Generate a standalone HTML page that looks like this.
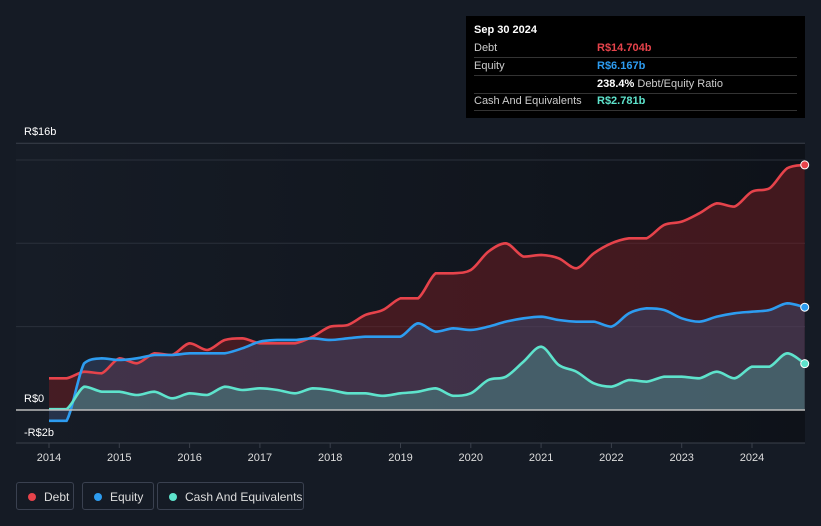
<!DOCTYPE html>
<html><head><meta charset="utf-8"><style>
body{margin:0;background:#151b25;font-family:"Liberation Sans",sans-serif;}
#wrap{position:relative;width:821px;height:526px;overflow:hidden;background:#151b25}
svg{position:absolute;left:0;top:0}
.tt{position:absolute;left:466px;top:16px;width:339px;height:102px;background:#000;color:#fff;font-size:11px}
.row{position:absolute;left:8px;right:8px;height:17px;border-bottom:1px solid #333;line-height:17px}
.row span.l{position:absolute;left:0;color:#ccc}
.row span.v{position:absolute;left:123px;font-weight:bold}
.leg{position:absolute;top:482px;height:28px;border:1px solid #3a4150;border-radius:3px;color:#ddd;font-size:12px;line-height:28px;box-sizing:border-box;padding-left:27px}
.leg i{position:absolute;left:11px;top:10px;width:8px;height:8px;border-radius:50%}
</style></head><body>
<div id="wrap">
<svg id="c" width="821" height="526"></svg>
<div class="tt">
<div style="position:absolute;left:8px;top:8px;font-weight:bold">Sep 30 2024</div>
<div class="row" style="top:24px"><span class="l">Debt</span><span class="v" style="color:#e6434b">R$14.704b</span></div>
<div class="row" style="top:42px"><span class="l">Equity</span><span class="v" style="color:#2d9cf0">R$6.167b</span></div>
<div class="row" style="top:60px"><span class="v" style="color:#fff">238.4% <span style="font-weight:normal;color:#ccc">Debt/Equity Ratio</span></span></div>
<div class="row" style="top:77px"><span class="l">Cash And Equivalents</span><span class="v" style="color:#5ee3cc">R$2.781b</span></div>
</div>
<div class="leg" style="left:16px;width:58px"><i style="background:#e6434b"></i>Debt</div>
<div class="leg" style="left:82px;width:72px"><i style="background:#2d9cf0"></i>Equity</div>
<div class="leg" style="left:157px;width:147px"><i style="background:#5ee3cc"></i>Cash And Equivalents</div>
</div>
<script>
const startYear=2014, step=0.25;
const debt=[1.9,1.9,2.3,2.2,3.1,2.8,3.4,3.3,4.0,3.6,4.2,4.3,4.0,4.0,4.0,4.4,5.0,5.1,5.7,6.0,6.7,6.7,8.2,8.2,8.4,9.5,10.0,9.2,9.3,9.1,8.5,9.4,10.0,10.3,10.3,11.1,11.3,11.8,12.4,12.2,13.1,13.3,14.5,14.704];
const equity=[-0.65,-0.65,2.8,3.1,3.0,3.1,3.3,3.3,3.4,3.4,3.4,3.7,4.1,4.2,4.2,4.3,4.2,4.3,4.4,4.4,4.4,5.2,4.7,4.9,4.8,5.0,5.3,5.5,5.6,5.4,5.3,5.3,5.0,5.8,6.1,6.0,5.5,5.3,5.6,5.8,5.9,6.0,6.4,6.167];
const cash=[0.05,0.05,1.4,1.1,1.1,0.9,1.1,0.7,1.0,0.9,1.4,1.2,1.3,1.2,1.0,1.3,1.2,1.0,1.0,0.85,1.0,1.1,1.3,0.85,1.0,1.8,2.0,2.9,3.8,2.7,2.3,1.6,1.4,1.8,1.7,2.0,2.0,1.9,2.3,1.9,2.6,2.6,3.4,2.781];
const yTicks=[16,0,-2];
const yTickLabels=["R$16b","R$0","-R$2b"];
const xYears=[2014,2015,2016,2017,2018,2019,2020,2021,2022,2023,2024];
const X=t=>49+(t-2014)*70.3, Y=v=>410-v*16.67;
const NS="http://www.w3.org/2000/svg", svg=document.getElementById('c');
function mk(tag,a,p){const e=document.createElementNS(NS,tag);for(const k in a)e.setAttribute(k,a[k]);(p||svg).appendChild(e);return e;}
const defs=mk('defs',{});
const bg=mk('linearGradient',{id:'bg',x1:0,x2:1,y1:0,y2:0},defs);
mk('stop',{offset:0,'stop-color':'#161c26'},bg);mk('stop',{offset:1,'stop-color':'#0e1219'},bg);
let r=mk('rect',{x:16,y:143,width:789,height:300,fill:'url(#bg)'});


[15,10,5].forEach(v=>{const l=mk('line',{x1:16,x2:805,y1:Y(v),y2:Y(v),stroke:'#2a303b'});

});
let tl=mk('line',{x1:16,x2:805,y1:Y(16),y2:Y(16),stroke:'#3a404b'});


let bl=mk('line',{x1:16,x2:805,y1:443,y2:443,stroke:'#3a404b'});


const labelY={16:135,0:402,"-2":436};
yTicks.forEach((v,i)=>{const t=mk('text',{x:24,y:labelY[v],fill:'#fff','font-size':11});t.textContent=yTickLabels[i];

});
xYears.forEach(yr=>{const t=mk('text',{x:X(yr),y:461,fill:'#ddd','font-size':11,'text-anchor':'middle'});t.textContent=yr;


const k=mk('line',{x1:X(yr),x2:X(yr),y1:443,y2:448,stroke:'#3a404b'});

});
function pts(arr){return arr.map((v,i)=>[X(startYear+i*step),Y(v)]);}
function path(p){let d='M'+p[0][0]+','+p[0][1];for(let i=0;i<p.length-1;i++){const p0=p[i-1]||p[i],p1=p[i],p2=p[i+1],p3=p[i+2]||p2;
let c1=[p1[0]+(p2[0]-p0[0])/6,p1[1]+(p2[1]-p0[1])/6],c2=[p2[0]-(p3[0]-p1[0])/6,p2[1]-(p3[1]-p1[1])/6];
const lo=Math.min(p1[1],p2[1]),hi=Math.max(p1[1],p2[1]);
c1[1]=Math.min(hi,Math.max(lo,c1[1]));c2[1]=Math.min(hi,Math.max(lo,c2[1]));
d+=`C${c1[0]},${c1[1]} ${c2[0]},${c2[1]} ${p2[0]},${p2[1]}`;}return d;}
const series=[[debt,'#e6434b','rgba(110,30,35,0.55)','debt'],[equity,'#2d9cf0','rgba(60,80,120,0.45)','equity'],[cash,'#5ee3cc','rgba(80,180,170,0.35)','cash']];
series.forEach(([a,c,f,n])=>{const p=pts(a),d=path(p);
const ar=mk('path',{d:d+`L${p[p.length-1][0]},${Y(0)}L${p[0][0]},${Y(0)}Z`,fill:f});

});
series.forEach(([a,c,f,n])=>{const p=pts(a);
const ln=mk('path',{d:path(p),fill:'none',stroke:c,'stroke-width':2.6});


const e=p[p.length-1];const dot=mk('circle',{cx:e[0],cy:e[1],r:4,fill:c,stroke:'#fff','stroke-width':1});

});
let zl=mk('line',{x1:16,x2:805,y1:Y(0),y2:Y(0),stroke:'#bbb','stroke-width':1.5});


</script>
</body></html>
